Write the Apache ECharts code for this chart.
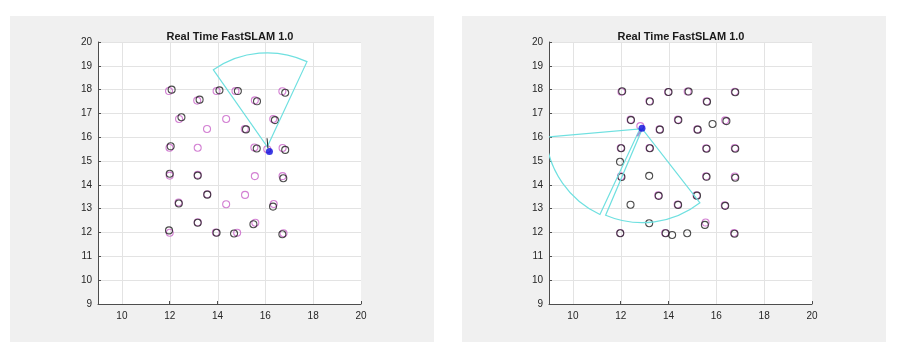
<!DOCTYPE html>
<html>
<head>
<meta charset="utf-8">
<script src="https://cdn.jsdelivr.net/npm/echarts@6/dist/echarts.min.js"></script>
<style>
  html, body { margin: 0; padding: 0; background: #ffffff; }
  #main { width: 900px; height: 351px; }
</style>
</head>
<body>
<div id="main"></div>
<script>
// tick values
var xTicks = [10, 12, 14, 16, 18, 20];
var yTicks = [9, 10, 11, 12, 13, 14, 15, 16, 17, 18, 19, 20];

// left frame: landmarks (black = true, magenta = particle estimates)
var leftTrue = [
    [12.08, 18.0], [14.08, 17.97], [14.85, 17.94], [16.83, 17.87],
    [13.25, 17.58], [15.65, 17.51],
    [12.49, 16.84], [16.40, 16.72],
    [15.19, 16.33],
    [12.04, 15.62], [15.64, 15.53], [16.83, 15.47],
    [12.0, 14.47], [13.17, 14.39], [16.75, 14.28],
    [13.57, 13.59],
    [12.38, 13.22], [16.32, 13.09],
    [13.17, 12.41], [15.5, 12.35],
    [11.97, 12.09], [13.96, 11.99], [14.69, 11.96], [16.71, 11.93]
];
var leftEst = [
    [11.97, 17.94], [13.96, 17.94], [14.75, 17.94], [16.71, 17.93],
    [13.15, 17.54], [15.56, 17.55],
    [12.39, 16.77], [14.36, 16.77], [16.33, 16.77],
    [13.56, 16.35], [15.14, 16.35],
    [11.99, 15.56], [13.17, 15.56], [15.54, 15.57], [16.08, 15.5], [16.72, 15.55],
    [12.0, 14.39], [13.17, 14.42], [15.56, 14.37], [16.72, 14.37],
    [13.57, 13.61], [15.15, 13.58],
    [12.37, 13.26], [14.36, 13.19], [16.35, 13.2],
    [13.17, 12.43], [15.58, 12.41],
    [12.0, 11.99], [13.93, 12.0], [14.82, 11.99], [16.76, 11.97]
];
var leftRobot = [[16.17, 15.4]];
var leftHeading = [[16.07, 15.96], [16.11, 15.54]];
// sensor fan: [x, y, range, fromAngle, toAngle] (degrees)
var leftFans = [[16.08, 15.6, 3.93, 65, 125]];

// right frame
var rightTrue = [
    [12.06, 17.93], [14.0, 17.9], [14.84, 17.92], [16.79, 17.89],
    [13.22, 17.5], [15.61, 17.49],
    [12.43, 16.72], [14.41, 16.72], [16.42, 16.68], [15.84, 16.56],
    [13.64, 16.32], [15.22, 16.32],
    [12.02, 15.54], [13.22, 15.54], [15.59, 15.52], [16.79, 15.52],
    [11.97, 14.97],
    [12.03, 14.33], [13.19, 14.38], [15.59, 14.34], [16.79, 14.3],
    [13.59, 13.54], [15.19, 13.55],
    [12.41, 13.17], [14.40, 13.16], [16.37, 13.12],
    [13.19, 12.39], [15.52, 12.32],
    [11.98, 11.97], [13.88, 11.97], [14.15, 11.9], [14.78, 11.97], [16.76, 11.95]
];
var rightEst = [
    [12.03, 17.91], [13.98, 17.9], [14.8, 17.92], [16.77, 17.91],
    [13.2, 17.52], [15.59, 17.51],
    [12.41, 16.74], [14.39, 16.74], [16.37, 16.71],
    [12.82, 16.47],
    [13.62, 16.33], [15.2, 16.33],
    [12.0, 15.55], [13.2, 15.55], [15.57, 15.54], [16.77, 15.55],
    [12.01, 14.36], [15.57, 14.36], [16.77, 14.35],
    [13.57, 13.56], [15.17, 13.56],
    [14.38, 13.18], [16.35, 13.14],
    [15.55, 12.42],
    [11.98, 11.98], [13.86, 11.98], [16.74, 11.98]
];
var rightRobot = [[12.89, 16.38]];
var rightHeading = [[12.86, 16.32], [12.69, 16.04]];
var rightFans = [
    [12.8, 16.35, 3.95, -175, -115],
    [12.9, 16.35, 3.92, -113, -52]
];

var myChart = echarts.init(document.getElementById('main'));

var fontFamily = 'Liberation Sans, Arial, sans-serif';

function xAxisFor(idx) {
    return {
        type: 'value', gridIndex: idx, min: 9, max: 20, interval: 1,
        axisLine: { show: true, onZero: false, lineStyle: { color: '#4d4d4d', width: 1 } },
        axisTick: { show: true, inside: true, length: 3, customValues: xTicks, lineStyle: { color: '#4d4d4d' } },
        axisLabel: { customValues: xTicks, color: '#262626', fontSize: 10, fontFamily: fontFamily, margin: 7 },
        splitLine: { show: false }
    };
}
function yAxisFor(idx) {
    return {
        type: 'value', gridIndex: idx, min: 9, max: 20, interval: 1,
        axisLine: { show: true, onZero: false, lineStyle: { color: '#4d4d4d', width: 1 } },
        axisTick: { show: true, inside: true, length: 3, lineStyle: { color: '#4d4d4d' } },
        axisLabel: { color: '#262626', fontSize: 10, fontFamily: fontFamily, margin: 6 },
        splitLine: { show: true, lineStyle: { color: '#e3e3e3', width: 1 } }
    };
}

// vertical grid lines at the x tick values
function xGridSeries(idx) {
    return {
        type: 'custom', xAxisIndex: idx, yAxisIndex: idx, z: 1, silent: true,
        data: xTicks.slice(0, xTicks.length - 1),
        renderItem: function (params, api) {
            var p1 = api.coord([api.value(0), 9]);
            var p2 = api.coord([api.value(0), 20]);
            return {
                type: 'line',
                shape: { x1: Math.round(p1[0]) + 0.5, y1: p1[1], x2: Math.round(p2[0]) + 0.5, y2: p2[1] },
                style: { stroke: '#e3e3e3', lineWidth: 1 }
            };
        }
    };
}

function fanSeries(idx, fans) {
    return {
        type: 'custom', xAxisIndex: idx, yAxisIndex: idx, z: 4, silent: true, clip: true,
        data: fans,
        renderItem: function (params, api) {
            var c = api.coord([api.value(0), api.value(1)]);
            var r = api.size([api.value(2), 0])[0];
            var a1 = api.value(3) * Math.PI / 180;
            var a2 = api.value(4) * Math.PI / 180;
            var cs = params.coordSys;
            return {
                type: 'sector',
                shape: { cx: c[0], cy: c[1], r: r, r0: 0, startAngle: -a2, endAngle: -a1, clockwise: true },
                style: { fill: 'transparent', stroke: '#6fe0e0', lineWidth: 1.2 },
                clipPath: { type: 'rect', shape: { x: cs.x, y: cs.y, width: cs.width, height: cs.height } }
            };
        }
    };
}

function landmarkSeries(idx, data, color, z) {
    return {
        type: 'scatter', xAxisIndex: idx, yAxisIndex: idx, z: z, silent: true,
        symbol: 'circle', symbolSize: 7,
        itemStyle: { color: 'transparent', borderColor: color, borderWidth: 1.1 },
        data: data
    };
}

function panelSeries(idx, trueLm, estLm, robot, heading, fans, headingColor, headingWidth) {
    return [
        xGridSeries(idx),
        landmarkSeries(idx, estLm, '#c862c8', 3),
        landmarkSeries(idx, trueLm, '#1e1e1e', 3),
        fanSeries(idx, fans),
        {
            type: 'line', xAxisIndex: idx, yAxisIndex: idx, z: 5, silent: true,
            symbol: 'none', data: heading,
            lineStyle: { color: headingColor, width: headingWidth }
        },
        {
            type: 'scatter', xAxisIndex: idx, yAxisIndex: idx, z: 6, silent: true,
            symbol: 'circle', symbolSize: 7,
            itemStyle: { color: '#0a0adc' },
            data: robot
        }
    ];
}

var option = {
    animation: false,
    graphic: [
        { type: 'rect', z: -10, shape: { x: 10, y: 16, width: 424, height: 326 }, style: { fill: '#f0f0f0' } },
        { type: 'rect', z: -10, shape: { x: 462, y: 16, width: 424, height: 326 }, style: { fill: '#f0f0f0' } }
    ],
    title: [
        { text: 'Real Time FastSLAM 1.0', left: 225, top: 26, textAlign: 'center',
          textStyle: { fontSize: 11, fontWeight: 'bold', color: '#1a1a1a', fontFamily: fontFamily } },
        { text: 'Real Time FastSLAM 1.0', left: 676, top: 26, textAlign: 'center',
          textStyle: { fontSize: 11, fontWeight: 'bold', color: '#1a1a1a', fontFamily: fontFamily } }
    ],
    grid: [
        { left: 98, top: 42, width: 263, height: 262, show: true, backgroundColor: '#ffffff', borderWidth: 0 },
        { left: 549, top: 42, width: 263, height: 262, show: true, backgroundColor: '#ffffff', borderWidth: 0 }
    ],
    xAxis: [xAxisFor(0), xAxisFor(1)],
    yAxis: [yAxisFor(0), yAxisFor(1)],
    series: panelSeries(0, leftTrue, leftEst, leftRobot, leftHeading, leftFans, '#222222', 1)
        .concat(panelSeries(1, rightTrue, rightEst, rightRobot, rightHeading, rightFans, '#9a9ad2', 2))
};

myChart.setOption(option);
</script>
</body>
</html>
